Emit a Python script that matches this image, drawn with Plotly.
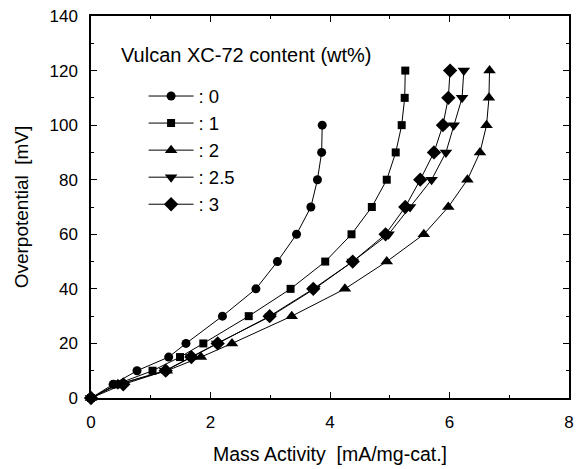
import plotly.graph_objects as go

# ---- data ----
overpotential = [0, 5, 10, 15, 20, 30, 40, 50, 60, 70, 80, 90, 100, 110, 120]

names = [": 0", ": 1", ": 2", ": 2.5", ": 3"]
x_0 = [0, 0.37, 0.77, 1.30, 1.59, 2.20, 2.76, 3.12, 3.44, 3.68, 3.79, 3.86, 3.87]
x_1 = [0, 0.42, 1.03, 1.49, 1.88, 2.64, 3.34, 3.92, 4.36, 4.70, 4.95, 5.10, 5.20, 5.25, 5.26]
x_2 = [0, 0.45, 1.27, 1.84, 2.36, 3.36, 4.25, 4.95, 5.57, 5.98, 6.30, 6.51, 6.62, 6.66, 6.67]
x_25 = [0, 0.45, 1.24, 1.67, 2.11, 3.01, 3.74, 4.38, 4.98, 5.34, 5.70, 5.94, 6.07, 6.21, 6.24]
x_3 = [0, 0.54, 1.25, 1.68, 2.12, 2.99, 3.72, 4.38, 4.93, 5.26, 5.51, 5.74, 5.89, 5.98, 6.01]
series_x = [x_0, x_1, x_2, x_25, x_3]
symbols = ["circle", "square", "triangle-up", "triangle-down", "diamond"]
marker_sizes = [9, 8, 11, 11, 11]

x_ticks = [0, 2, 4, 6, 8]
y_ticks = [0, 20, 40, 60, 80, 100, 120, 140]

FONT = "Liberation Sans, Arial, sans-serif"

fig = go.Figure()
for i, (nm, xs, sym, ms) in enumerate(zip(names, series_x, symbols, marker_sizes)):
    fig.add_trace(go.Scatter(
        x=xs, y=overpotential[:len(xs)], name=nm, mode="lines+markers",
        line=dict(color="black", width=1),
        marker=dict(symbol=sym, size=ms, color="black"),
        legendgroup=str(i), cliponaxis=False,
    ))

axis_common = dict(
    showline=True, linecolor="black", linewidth=1.5, mirror="ticks",
    ticks="inside", ticklen=6, tickwidth=1, tickcolor="black",
    showgrid=False, zeroline=False,
    tickfont=dict(family=FONT, size=17, color="black"),
)
fig.update_xaxes(range=[0, 8], tickvals=x_ticks, ticktext=[str(v) for v in x_ticks],
                 minor=dict(dtick=1, ticks="inside", ticklen=3, tickcolor="black"),
                 title=dict(text="Mass Activity  [mA/mg-cat.]", font=dict(family=FONT, size=19.5, color="black"), standoff=16),
                 ticklabelstandoff=8, **axis_common)
fig.update_yaxes(range=[0, 140], tickvals=y_ticks, ticktext=[str(v) for v in y_ticks],
                 minor=dict(dtick=10, ticks="inside", ticklen=3, tickcolor="black"),
                 title=dict(text="Overpotential  [mV]", font=dict(family=FONT, size=19, color="black"), standoff=16),
                 ticklabelstandoff=8, **axis_common)

fig.add_annotation(text="Vulcan XC-72 content (wt%)", xref="paper", yref="paper",
                   x=0.058, y=0.899, xanchor="left", yanchor="middle", showarrow=False,
                   font=dict(family=FONT, size=20, color="black"))

fig.update_layout(
    width=581, height=469,
    margin=dict(l=91, r=7, t=14, b=70),
    plot_bgcolor="white", paper_bgcolor="white",
    font=dict(family=FONT, color="black"),
    legend=dict(x=0.11, y=0.839, xanchor="left", yanchor="top", bgcolor="rgba(0,0,0,0)",
                font=dict(family=FONT, size=18.5, color="black"), tracegroupgap=0,
                itemwidth=45),
)

fig.write_html("out.html")
